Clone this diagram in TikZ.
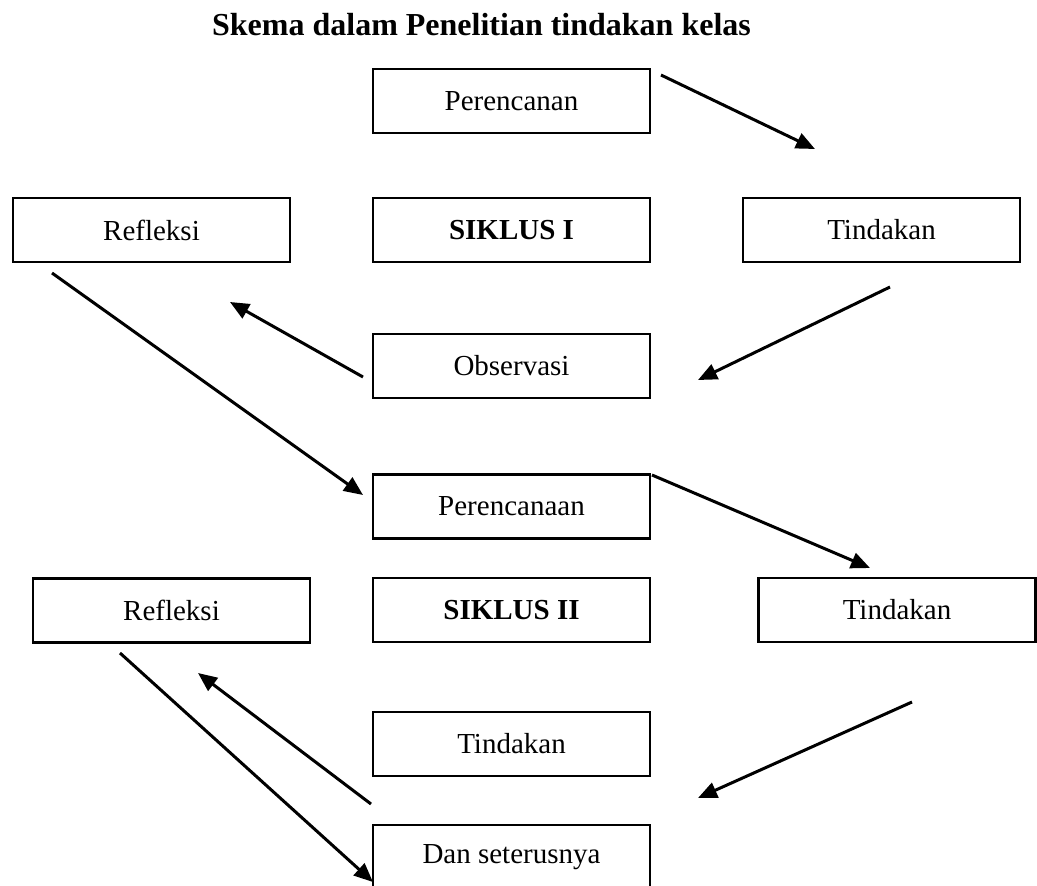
\documentclass[tikz,border=0pt]{standalone}
\usepackage{fontspec}
\setmainfont{Liberation Serif}
\usepackage{tikz}
\usetikzlibrary{arrows.meta}

\tikzset{
	kotak/.style={draw, line width=2.4pt, rectangle, minimum width=277pt, minimum height=64pt, inner sep=0pt, font=\fontsize{29}{34}\selectfont},
	panah/.style={line width=3pt, -{Triangle[length=19pt,width=16pt]}}
}

\begin{document}
\begin{tikzpicture}[x=1pt, y=-1pt]
	\useasboundingbox (0,0) rectangle (1037,886);
	\node[anchor=base, font=\fontsize{32}{38}\selectfont\bfseries] (judul) at (481.5,35) {Skema dalam Penelitian tindakan kelas};
	
	% siklus I
	\node[kotak] (rencana1) at (511.5,101) {Perencanan};
	\node[kotak] (siklus1) at (511.5,230) {\textbf{SIKLUS I}};
	\node[kotak] (refleksi1) at (151.5,230) {Refleksi};
	\node[kotak] (tindakan1) at (881.5,230) {Tindakan};
	\node[kotak] (observasi) at (511.5,366) {Observasi};
	
	% siklus II
	\node[kotak] (rencana2) at (511.5,506.5) {Perencanaan};
	\node[kotak] (siklus2) at (511.5,610) {\textbf{SIKLUS II}};
	\node[kotak] (refleksi2) at (171.5,610.5) {Refleksi};
	\node[kotak] (tindakan2) at (897,610) {Tindakan};
	\node[kotak] (tindakan3) at (511.5,744) {Tindakan};
	\node[kotak] (lanjut) at (511.5,857) {Dan seterusnya};
	
	% ujung panah
	\coordinate (p1a) at (661,75);   \coordinate (p1b) at (815,149);
	\coordinate (p2a) at (890,287);  \coordinate (p2b) at (698,380);
	\coordinate (p3a) at (363,377);  \coordinate (p3b) at (230,302);
	\coordinate (p4a) at (52,273);   \coordinate (p4b) at (363,495);
	\coordinate (p5a) at (652,475);  \coordinate (p5b) at (870,568);
	\coordinate (p6a) at (912,702);  \coordinate (p6b) at (698,798);
	\coordinate (p7a) at (371,804);  \coordinate (p7b) at (198,673);
	\coordinate (p8a) at (120,653);  \coordinate (p8b) at (373,882);
	
	\draw[panah] (p1a) -- (p1b);
	\draw[panah] (p2a) -- (p2b);
	\draw[panah] (p3a) -- (p3b);
	\draw[panah] (p4a) -- (p4b);
	\draw[panah] (p5a) -- (p5b);
	\draw[panah] (p6a) -- (p6b);
	\draw[panah] (p7a) -- (p7b);
	\draw[panah] (p8a) -- (p8b);
\end{tikzpicture}
\end{document}
